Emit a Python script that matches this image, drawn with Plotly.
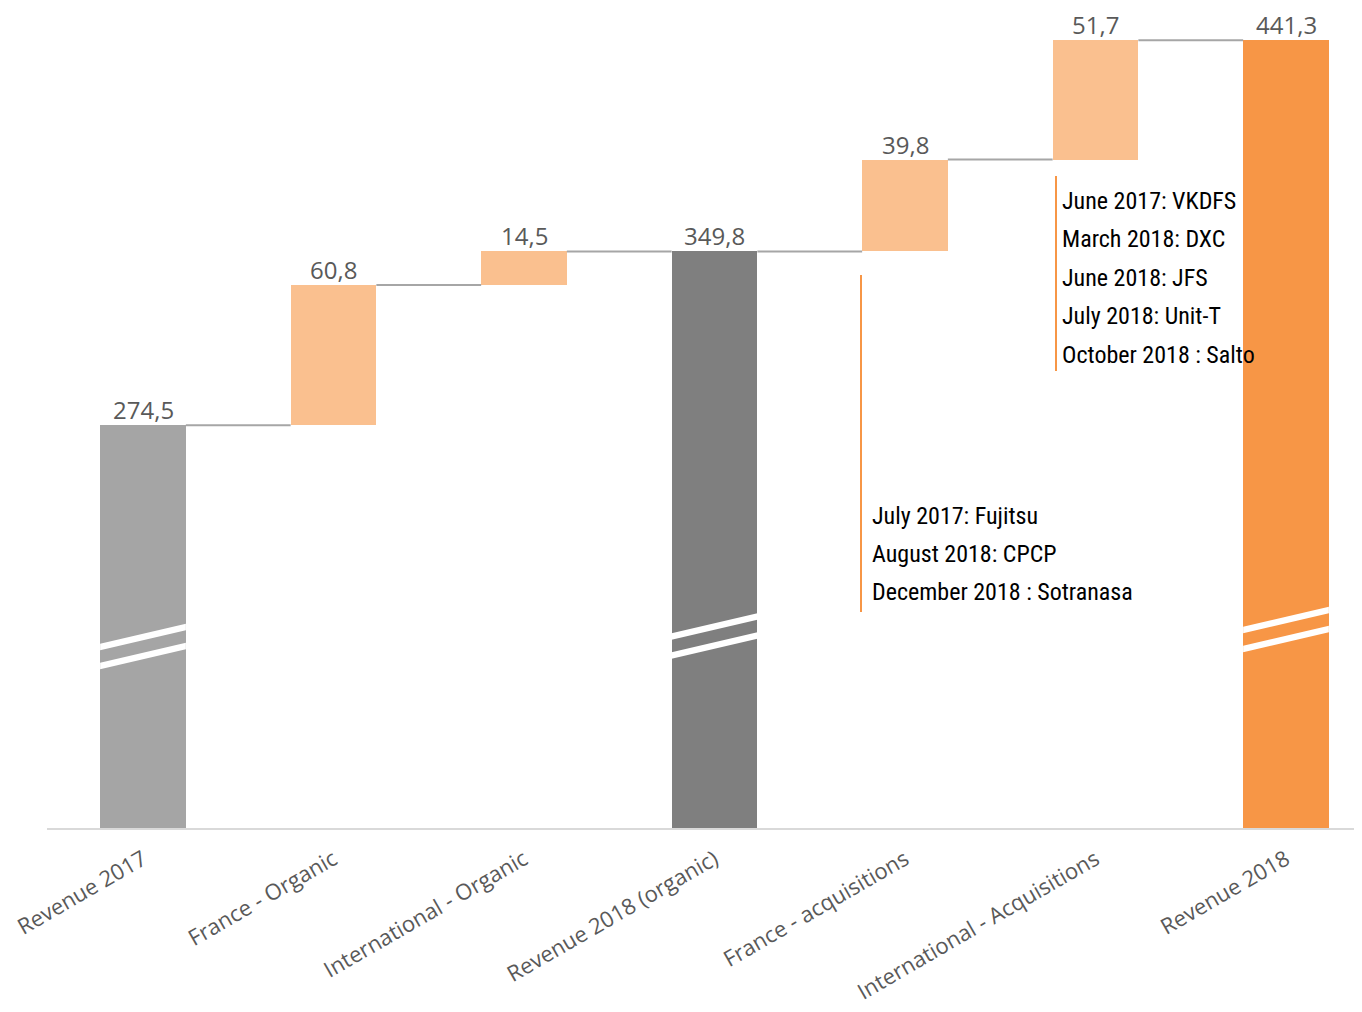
import plotly.graph_objects as go

categories = ["Revenue 2017", "France - Organic", "International - Organic",
              "Revenue 2018 (organic)", "France - acquisitions",
              "International - Acquisitions", "Revenue 2018"]
values = [274.5, 60.8, 14.5, 349.8, 39.8, 51.7, 441.3]
kinds = ["total", "delta", "delta", "total", "delta", "delta", "total"]
total_colors = ["#A5A5A5", "#7F7F7F", "#F79646"]
delta_color = "#FAC08F"

notes_france = ["July 2017: Fujitsu", "August 2018: CPCP", "December 2018 : Sotranasa"]
notes_intl = ["June 2017: VKDFS", "March 2018: DXC", "June 2018: JFS",
              "July 2018: Unit-T", "October 2018 : Salto"]

# page geometry (page has an 8px body margin)
PAGE_W, PAGE_H = 1362, 1012
OFF = 8
W, H = PAGE_W - 2 * OFF, PAGE_H - 2 * OFF
PL, PR, PT, PB = 47, 1354, 10, 828   # plot area in page pixels
ML, MR, MT, MB = PL - OFF, W - (PR - OFF), PT - OFF, H - (PB - OFF)
Y0 = 100
UNIT = 1 / 2.308                     # value per pixel
Y1 = Y0 + (PB - PT) * UNIT
CX0, STEP = 143, 190.5               # page x of first category, spacing
X0 = (PL - CX0) / STEP
X1 = (PR - CX0) / STEP
BW = 0.45

def px_x(p):
    return (p - PL) / (PR - PL)

def px_y(p):
    return (PB - p) / (PB - PT)

def yval(p):
    return Y0 + (PB - p) * UNIT

xs = list(range(len(categories)))
bases, heights, colors, tops = [], [], [], []
cum = 0
ti = 0
for v, k in zip(values, kinds):
    if k == "total":
        bases.append(0)
        colors.append(total_colors[ti])
        ti += 1
        cum = v
    else:
        bases.append(cum)
        colors.append(delta_color)
        cum = cum + v
    heights.append(v)
    tops.append(cum)

fig = go.Figure()

for i in range(len(xs) - 1):
    fig.add_trace(go.Scatter(x=[xs[i] + BW / 2, xs[i + 1] - BW / 2], y=[tops[i], tops[i]],
                             mode="lines", line=dict(color="#A6A6A6", width=2),
                             hoverinfo="skip", showlegend=False))

fig.add_trace(go.Bar(x=xs, y=heights, base=bases, width=BW,
                     marker=dict(color=colors, line=dict(width=0)),
                     showlegend=False))

for x, t, v in zip(xs, tops, values):
    fig.add_annotation(x=x, y=t, text=f"{v:.1f}".replace(".", ","), showarrow=False,
                       yanchor="bottom", yshift=-3,
                       font=dict(family="Open Sans", size=24, color="#595959"))

break_px = [637, 626.5, 620]
ti = 0
shapes = []
for x, k in zip(xs, kinds):
    if k != "total":
        continue
    yc0 = yval(break_px[ti])
    ti += 1
    for off in (0, -19 * UNIT):
        yc = yc0 + off
        rise = 10 * UNIT
        th = 3.2 * UNIT
        xl, xr = x - BW / 2, x + BW / 2
        path = (f"M {xl},{yc - rise - th} L {xr},{yc + rise - th} "
                f"L {xr},{yc + rise + th} L {xl},{yc - rise + th} Z")
        shapes.append(dict(type="path", path=path, xref="x", yref="y",
                           fillcolor="white", line=dict(width=0)))

shapes.append(dict(type="line", xref="paper", yref="paper", x0=px_x(861), x1=px_x(861),
                   y0=px_y(275), y1=px_y(612), line=dict(color="#F79646", width=2)))
shapes.append(dict(type="line", xref="paper", yref="paper", x0=px_x(1056), x1=px_x(1056),
                   y0=px_y(176), y1=px_y(371), line=dict(color="#F79646", width=2)))

note_font = dict(family="Roboto Condensed, Roboto, sans-serif", size=24, color="#000000")
for j, t in enumerate(notes_france):
    fig.add_annotation(xref="paper", yref="paper", x=px_x(870), y=px_y(516 + 38.2 * j),
                       text=t, showarrow=False, xanchor="left", yanchor="middle",
                       font=note_font)
for j, t in enumerate(notes_intl):
    fig.add_annotation(xref="paper", yref="paper", x=px_x(1060), y=px_y(201 + 38.5 * j),
                       text=t, showarrow=False, xanchor="left", yanchor="middle",
                       font=note_font)

fig.update_layout(
    width=W, height=H,
    margin=dict(l=ML, r=MR, t=MT, b=MB),
    plot_bgcolor="white", paper_bgcolor="white",
    shapes=shapes,
    bargap=0,
)
fig.update_xaxes(range=[X0, X1], tickmode="array", tickvals=xs, ticktext=categories,
                 tickangle=-30, showgrid=False, zeroline=False,
                 showline=True, linecolor="#D9D9D9", linewidth=2,
                 ticks="", ticklabelstandoff=8,
                 tickfont=dict(family="Open Sans", size=22, color="#595959"))
fig.update_yaxes(range=[Y0, Y1], visible=False, showgrid=False, zeroline=False)

fig.write_html("out.html")
